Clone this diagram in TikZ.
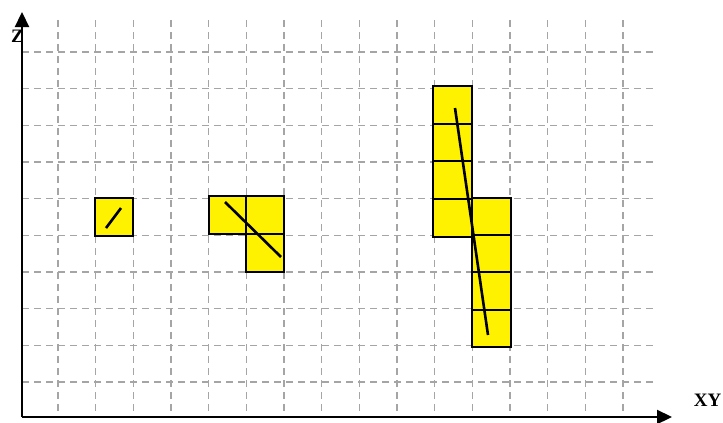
\documentclass[tikz,border=0pt]{standalone}
\usepackage{fontspec}
\setmainfont{Liberation Serif}
\usetikzlibrary{arrows.meta}
\begin{document}
\begin{tikzpicture}[x=1pt,y=-1pt,
  gridline/.style={draw={rgb,255:red,165;green,165;blue,165},line width=1.3pt,dash pattern=on 7pt off 5pt},
  cellbox/.style={draw=black,fill=yellow,line width=1.3pt},
  trace/.style={draw=black,line width=2.6pt},
  axis/.style={draw=black,line width=2.2pt,-{Triangle[length=15pt,width=14pt]}},
  axlabel/.style={font=\fontsize{19}{19}\selectfont\bfseries,inner sep=0pt}]
\useasboundingbox (0,0) rectangle (723,423);
% grid
\foreach \k in {0,...,15}{
  \draw[gridline] ({58+37.67*\k},20) -- ({58+37.67*\k},417);
}
\foreach \k in {0,...,9}{
  \draw[gridline] (22,{52+36.67*\k}) -- (653,{52+36.67*\k});
}
% box 1
\draw[cellbox] (95,198) rectangle (133,236);
% box 2
\draw[cellbox] (209,196) rectangle (246,234);
\draw[cellbox] (246,196) rectangle (284,234);
\draw[cellbox] (246,234) rectangle (284,272);
% box 3 left column
\foreach \a/\b in {86/124,124/161,161/199,199/237}{
  \draw[cellbox] (433,\a) rectangle (472,\b);
}
% box 3 right column
\foreach \a/\b in {198/235,235/272,272/310,310/347}{
  \draw[cellbox] (472,\a) rectangle (511,\b);
}
% traces
\coordinate (t1a) at (106,228); \coordinate (t1b) at (121,208);
\coordinate (t2a) at (225,202); \coordinate (t2b) at (281,257);
\coordinate (t3a) at (455,108); \coordinate (t3b) at (488,335);
\draw[trace] (t1a) -- (t1b);
\draw[trace] (t2a) -- (t2b);
\draw[trace] (t3a) -- (t3b);
% labels
\node[axlabel] (zl) at (17.5,36) {Z};
\node[axlabel] (xyl) at (707.5,400.5) {XY};
% axes
\coordinate (o) at (22,417);
\coordinate (ytip) at (22,12);
\coordinate (xtip) at (672,417);
\draw[axis] (o) -- (ytip);
\draw[axis] (o) -- (xtip);
\end{tikzpicture}
\end{document}
